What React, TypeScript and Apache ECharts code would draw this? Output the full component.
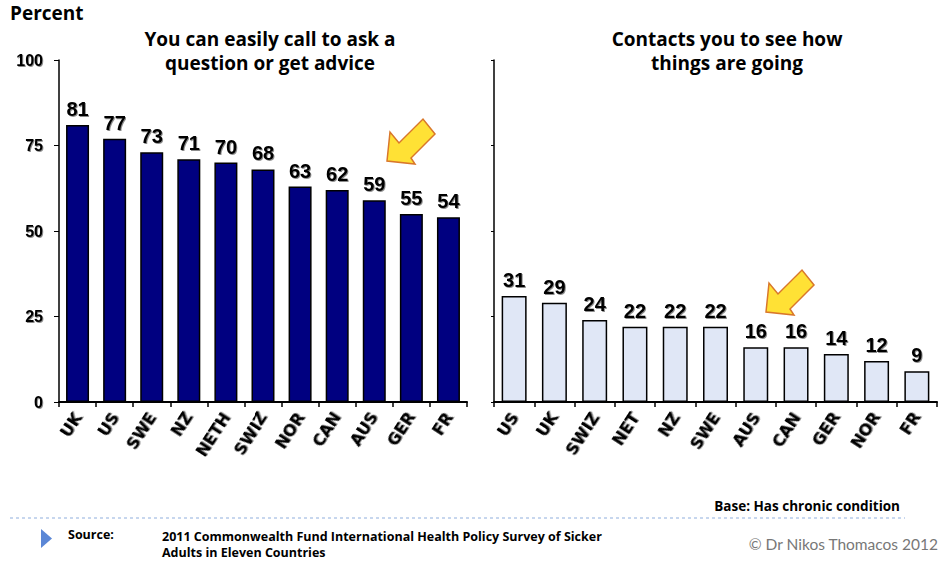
import React, { useEffect, useRef } from "react";
import * as echarts from "echarts";

const leftCategories = ["UK", "US", "SWE", "NZ", "NETH", "SWIZ", "NOR", "CAN", "AUS", "GER", "FR"];
const leftValues = [81, 77, 73, 71, 70, 68, 63, 62, 59, 55, 54];
const rightCategories = ["US", "UK", "SWIZ", "NET", "NZ", "SWE", "AUS", "CAN", "GER", "NOR", "FR"];
const rightValues = [31, 29, 24, 22, 22, 22, 16, 16, 14, 12, 9];

const leftTitle = "You can easily call to ask a\nquestion or get advice";
const rightTitle = "Contacts you to see how\nthings are going";

const arrowPts = [
  [0, 0], [3, -29], [12, -18], [36, -42], [48, -27], [24, -3], [28, 3],
];

function arrow(x: number, y: number) {
  return {
    type: "polygon",
    x,
    y,
    shape: { points: arrowPts },
    style: { fill: "#FFE135", stroke: "#D9772A", lineWidth: 1.5 },
    z: 100,
  };
}

export default function App() {
  const ref = useRef<HTMLDivElement>(null);
  useEffect(() => {
    if (!ref.current) return;
    const chart = echarts.init(ref.current, undefined, { renderer: "svg" });
    const axisFont = "Arial, 'Liberation Sans', sans-serif";
    const wideFont = "'DejaVu Sans', Arial, sans-serif";
    const titleFont = "'Open Sans', Lato, sans-serif";
    const shadow = {
      textShadowColor: "rgba(0,0,0,0.45)",
      textShadowBlur: 1,
      textShadowOffsetX: 1,
      textShadowOffsetY: 1,
    };
    const xAxisCommon = (idx: number, data: string[]) => ({
      type: "category",
      gridIndex: idx,
      data,
      axisLine: { lineStyle: { color: "#000", width: 2 } },
      axisTick: { show: true, alignWithLabel: false, length: 5, lineStyle: { color: "#000", width: 1.5 } },
      axisLabel: {
        rotate: 57,
        interval: 0,
        color: "#000",
        fontWeight: "bold",
        fontSize: 16,
        fontFamily: wideFont,
        margin: 12,
        ...shadow,
      },
    });
    const yAxisCommon = (idx: number, showLabels: boolean) => ({
      type: "value",
      gridIndex: idx,
      min: 0,
      max: 100,
      interval: 25,
      splitLine: { show: false },
      axisLine: { show: true, lineStyle: { color: "#000", width: 1.5 } },
      axisTick: { show: true, length: showLabels ? 5 : 3, lineStyle: { color: "#000", width: 1 } },
      axisLabel: {
        show: showLabels,
        color: "#000",
        fontWeight: "bold",
        fontSize: 16,
        fontFamily: axisFont,
        margin: 16,
        ...shadow,
      },
    });
    const labelCommon = {
      show: true,
      position: "top",
      distance: 6,
      color: "#000",
      fontWeight: "bold",
      fontSize: 20,
      fontFamily: axisFont,
      ...shadow,
    };
    chart.setOption({
      animation: false,
      backgroundColor: "#fff",
      grid: [
        { left: 59, top: 60, width: 408, height: 342 },
        { left: 494, top: 60, width: 443, height: 342 },
      ],
      xAxis: [xAxisCommon(0, leftCategories), xAxisCommon(1, rightCategories)],
      yAxis: [yAxisCommon(0, true), yAxisCommon(1, false)],
      series: [
        {
          type: "bar",
          xAxisIndex: 0,
          yAxisIndex: 0,
          data: leftValues,
          barCategoryGap: "38%",
          itemStyle: { color: "#000080", borderColor: "#000", borderWidth: 1.5 },
          label: labelCommon,
        },
        {
          type: "bar",
          xAxisIndex: 1,
          yAxisIndex: 1,
          data: rightValues,
          barCategoryGap: "38%",
          itemStyle: { color: "#E0E7F6", borderColor: "#000", borderWidth: 1.5 },
          label: labelCommon,
        },
      ],
      graphic: [
        {
          type: "text",
          x: 10,
          y: 3,
          style: { text: "Percent", font: `bold 19px ${titleFont}`, fill: "#000" },
        },
        {
          type: "text",
          x: 270,
          y: 27,
          style: {
            text: leftTitle,
            font: `bold 19px ${titleFont}`,
            fill: "#000",
            align: "center",
            lineHeight: 24,
          },
        },
        {
          type: "text",
          x: 727,
          y: 27,
          style: {
            text: rightTitle,
            font: `bold 19px ${titleFont}`,
            fill: "#000",
            align: "center",
            lineHeight: 24,
          },
        },
        arrow(387, 161),
        arrow(766, 312),
        {
          type: "text",
          x: 900,
          y: 499,
          style: { text: "Base: Has chronic condition", font: `bold 13.5px ${titleFont}`, fill: "#000", align: "right" },
        },
        {
          type: "line",
          shape: { x1: 10, y1: 518, x2: 905, y2: 518 },
          style: { stroke: "#8FAEDD", lineWidth: 1, lineDash: [3, 3] },
        },
        {
          type: "polygon",
          shape: { points: [[41, 529], [52, 538.5], [41, 548]] },
          style: { fill: "#5B87D6" },
        },
        {
          type: "text",
          x: 68,
          y: 528,
          style: { text: "Source:", font: `bold 12.5px ${titleFont}`, fill: "#000" },
        },
        {
          type: "text",
          x: 162,
          y: 528,
          style: {
            text: "2011 Commonwealth Fund International Health Policy Survey of Sicker\nAdults in Eleven Countries",
            font: `bold 12.5px ${titleFont}`,
            fill: "#000",
            lineHeight: 16,
          },
        },
        {
          type: "text",
          x: 938,
          y: 536,
          style: {
            text: "© Dr Nikos Thomacos 2012",
            font: `15.5px Lato, 'Open Sans', sans-serif`,
            fill: "#777",
            align: "right",
          },
        },
      ],
    });
    return () => chart.dispose();
  }, []);
  return (
    <div
      ref={ref}
      style={{ position: "fixed", left: 0, top: 0, width: 939, height: 567, background: "#fff" }}
    />
  );
}
